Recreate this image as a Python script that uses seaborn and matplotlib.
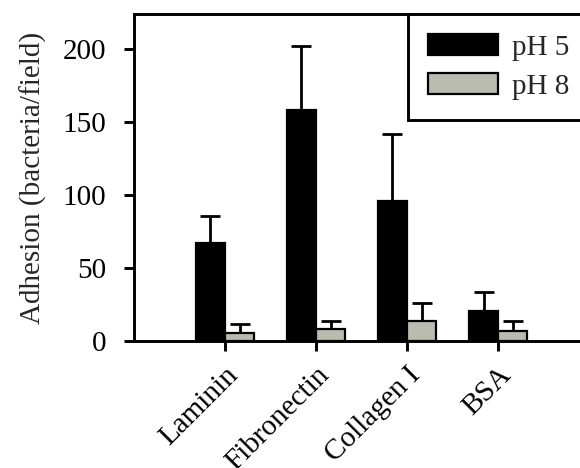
import matplotlib
matplotlib.use("Agg")
import numpy as np
import pandas as pd
import matplotlib.pyplot as plt
import seaborn as sns

# values
substrates = ["Laminin", "Fibronectin", "Collagen I", "BSA"]
groups = ["pH 5", "pH 8"]
adhesion_ph5 = [67, 158, 96, 21]
adhesion_ph8 = [5.5, 8, 14, 7]
sd_ph5 = [19, 44, 46, 13]
sd_ph8 = [6, 6, 12, 7]
y_ticks = [0, 50, 100, 150, 200]

df = pd.DataFrame({
    "substrate": substrates * 2,
    "group": [groups[0]] * 4 + [groups[1]] * 4,
    "adhesion": adhesion_ph5 + adhesion_ph8,
    "sd": sd_ph5 + sd_ph8,
})

sns.set_style("ticks")
plt.rcParams["font.family"] = ["Liberation Serif", "DejaVu Serif"]
FS = 21
LW = 2.1

fig = plt.figure(figsize=(5.8, 4.68), dpi=100)
ax = fig.add_axes([0.231, 0.271, 0.769, 0.699])

palette = {"pH 5": "#000000", "pH 8": "#bbbcb0"}
sns.barplot(data=df, x="substrate", y="adhesion", hue="group", palette=palette,
            width=0.64, errorbar=None, edgecolor="black", linewidth=1.6,
            saturation=1, ax=ax, zorder=3)

# upper-only error bars, placed on each bar centre
for container, grp in zip(ax.containers, groups):
    sub = df[df["group"] == grp]
    xs = [p.get_x() + p.get_width() / 2 for p in container.patches]
    ys = sub["adhesion"].to_numpy()
    err = sub["sd"].to_numpy()
    ax.errorbar(xs, ys, yerr=[np.zeros_like(err), err], fmt="none",
                ecolor="black", elinewidth=2.0, capsize=7, capthick=2.0, zorder=2)

ax.set_ylim(0, 224)
ax.set_xlim(-1, 3.9)
ax.set_yticks(y_ticks)
ax.set_xlabel("")
ax.set_ylabel("Adhesion (bacteria/field)", fontsize=FS, labelpad=11)
ax.tick_params(axis="both", labelsize=FS, length=7, width=LW, colors="black")
ax.tick_params(axis="y", pad=13)
ax.tick_params(axis="x", pad=8)
plt.setp(ax.get_xticklabels(), rotation=45, ha="right", rotation_mode="anchor")

for side in ["left", "bottom", "top"]:
    ax.spines[side].set_linewidth(LW)
    ax.spines[side].set_color("black")
ax.spines["right"].set_visible(False)

leg = ax.legend(loc="upper left", bbox_to_anchor=(0.614, 1.0), fontsize=FS,
                frameon=True, fancybox=False, handlelength=2.38, handleheight=0.72,
                handletextpad=0.5, labelspacing=0.42, borderpad=0.7,
                borderaxespad=0)
leg.get_frame().set_edgecolor("black")
leg.get_frame().set_linewidth(LW)
leg.get_frame().set_alpha(1)

fig.savefig("out.png", dpi=100)
